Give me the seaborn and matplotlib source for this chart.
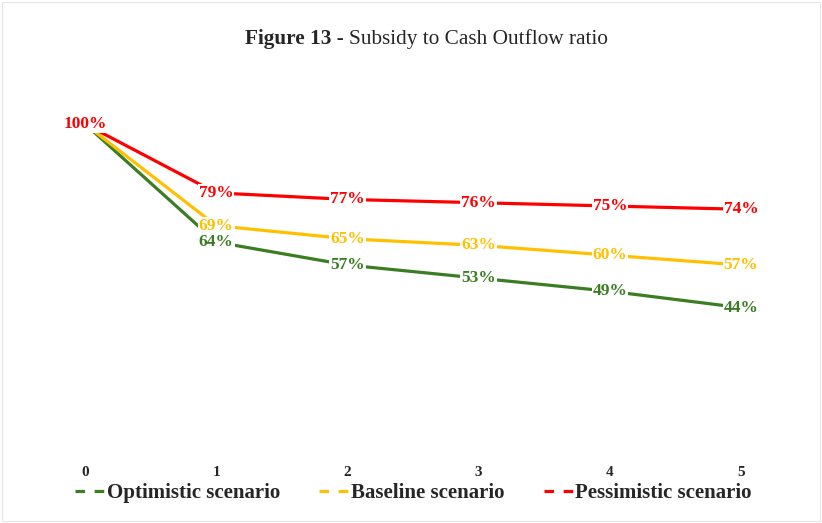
import matplotlib
matplotlib.use("Agg")
import matplotlib.pyplot as plt
from matplotlib.lines import Line2D
from matplotlib.patches import Rectangle
import seaborn as sns
import pandas as pd

years = [0, 1, 2, 3, 4, 5]
optimistic = [100, 64, 57, 53, 49, 44]
baseline = [100, 69, 65, 63, 60, 57]
pessimistic = [100, 79, 77, 76, 75, 74]

scenario_names = ["Optimistic scenario", "Baseline scenario", "Pessimistic scenario"]
scenario_colors = ["#3A7D22", "#FFC000", "#FF0000"]

frames = []
for name, vals in zip(scenario_names, [optimistic, baseline, pessimistic]):
    frames.append(pd.DataFrame({"year": years, "ratio": vals, "scenario": name}))
df = pd.concat(frames, ignore_index=True)

sns.set_theme(style="white")
plt.rcParams["font.family"] = ["Liberation Serif", "DejaVu Serif"]

fig = plt.figure(figsize=(8.22, 5.23), dpi=100)
ax = fig.add_axes([0.0236, 0.1358, 0.9577, 0.6898])

sns.lineplot(data=df, x="year", y="ratio", hue="scenario",
             hue_order=scenario_names, palette=scenario_colors,
             linewidth=2.3, legend=False, ax=ax, sort=False)

# percentage labels on each point, drawn with a white box over the line
for i, (name, vals, col) in enumerate(zip(scenario_names,
                                          [optimistic, baseline, pessimistic],
                                          scenario_colors)):
    for x, v in zip(years, vals):
        ax.text(x, v, f"{v}%", color=col, fontsize=12.5, fontweight="bold",
                ha="center", va="center", zorder=5 + i,
                bbox=dict(boxstyle="square,pad=0.05", fc="white", ec="none"))

ax.set_xlim(-0.5, 5.5)
ax.set_ylim(0, 110)
ax.set_xticks(years)
ax.set_xticklabels([str(y) for y in years], fontsize=11, fontweight="bold")
ax.tick_params(axis="x", length=0, pad=10)
ax.set_yticks([])
ax.set_xlabel("")
ax.set_ylabel("")
for s in ax.spines.values():
    s.set_visible(False)

# title: bold figure number followed by the plain caption
title_size = 15.3
t1 = fig.text(0.0, 0.925, "Figure 13 - ", fontsize=title_size, fontweight="bold",
              ha="left", va="center")
t2 = fig.text(0.0, 0.925, "Subsidy to Cash Outflow ratio", fontsize=title_size,
              ha="left", va="center")
renderer = fig.canvas.get_renderer()
w1 = t1.get_window_extent(renderer).width
w2 = t2.get_window_extent(renderer).width
fig_w = fig.bbox.width
start = (fig_w - (w1 + w2)) / 2 + 15
t1.set_x(start / fig_w)
t2.set_x((start + w1) / fig_w)

handles = [Line2D([0], [0], color=c, lw=2.3, linestyle=(0, (3, 3)))
           for c in scenario_colors]
fig.legend(handles, scenario_names, loc="center", bbox_to_anchor=(0.503, 0.057),
           ncol=3, frameon=False, handlelength=1.4, handletextpad=0.1,
           columnspacing=1.9, prop={"weight": "bold", "size": 15})

fig.patches.append(Rectangle((0.002, 0.004), 0.996, 0.992, transform=fig.transFigure,
                             fill=False, ec="#e6e6e6", lw=0.8))

fig.savefig("out.png", dpi=100)
